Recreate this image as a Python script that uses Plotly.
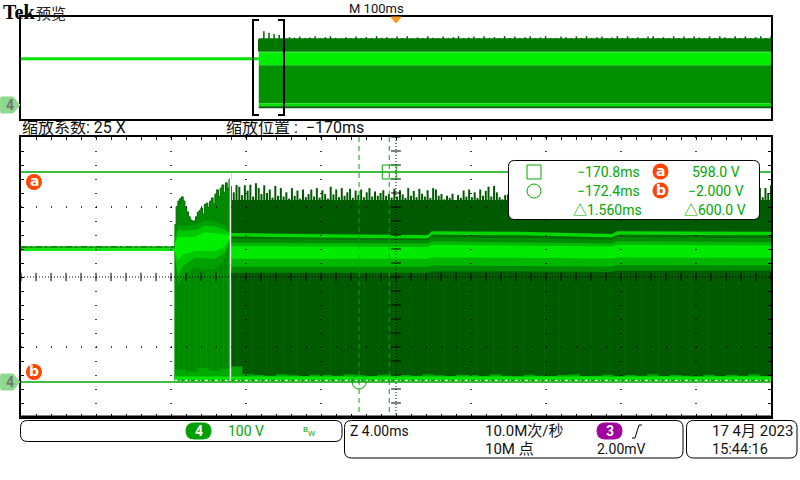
import numpy as np
import plotly.graph_objects as go

# ---------- values (ms, volts) ----------
CH_LABEL = "4"
SCALE_TEXT = "100 V"
ZOOM_FACTOR = "缩放系数: 25 X"
ZOOM_POS = "缩放位置 :  −170ms"
READOUT = [("−170.8ms", "598.0 V", 739), ("−172.4ms", "−2.000 V", 743), ("△1.560ms", "△600.0 V", 745)]

cursor_a_v = 598
cursor_b_v = -2
cursor_square_ms = -170.36
cursor_circle_ms = -171.97

idle_t = [-190, -181.8]
idle_top = [386, 386]
idle_bot = [372, 372]

# start-up burst, 0.094 ms per pulse
burst_start = -181.82
burst_peak = [447, 500, 515, 522, 527, 515, 498, 484, 470, 461, 458, 458, 470, 483, 488, 495, 478,
              505, 509, 497, 515, 524, 507, 535, 547, 528, 552, 561, 540, 567, 552, 578, 595]

# steady switching pulses, spread evenly over the rest of the sweep
steady_start = -178.8
steady_end = -150
steady_base = 518
steady_peak = [
 558, 540, 561, 556, 532, 560, 545, 562, 528, 566, 552, 535, 560, 538, 548, 525, 558, 530, 552, 528,
 540, 522, 552, 530, 545, 522, 548, 526, 535, 548, 528, 552, 525, 546, 535, 522, 556, 534, 548, 526,
 552, 530, 540, 550, 524, 545, 532, 548, 526, 540, 552, 528, 542, 530, 538, 546, 530, 535, 525, 550,
 528, 546, 534, 524, 552, 530, 544, 526, 550, 536, 528, 546, 524, 552, 548, 530, 535, 520, 530, 524,
 536, 518, 532, 524, 545, 528, 548, 526, 540, 524, 548, 530, 544, 556, 528, 558, 540, 526, 520, 532,
 534, 526, 530, 528, 545, 530, 548, 526, 540, 546, 524, 550, 530, 540, 526, 552, 534, 528, 556, 530,
 546, 552, 528, 558, 534, 544, 526, 552, 530, 548, 556, 528, 546, 532, 550, 526, 544, 552, 530, 540,
 548, 528, 552, 532, 540, 556, 526, 546, 534, 550, 528, 544, 552, 526, 548, 532, 540, 554, 528, 546,
 530, 552, 536, 526, 550, 540, 528, 556, 534, 546, 524, 552, 530, 544, 550, 526, 540, 556, 530, 548,
 526, 552, 534, 544, 528, 550, 538, 526, 558, 530, 546, 552, 526, 552, 538, 560,
]
streak_t = [-178.4, -177.7, -176.9, -176.0, -175.3, -174.6, -173.5, -172.7, -171.7, -170.9, -170.1, -169.2,
            -168.3, -167.4, -166.6, -165.7, -164.8, -163.9, -163.2, -162.1, -161.3, -160.4, -159.6, -158.6,
            -157.8, -156.9, -156.0, -155.2, -154.3, -153.4, -152.5, -151.7, -150.8]
streak_top = 300
streak_bot = 20
burst_streak_t = [-181.6, -181.3, -181.0, -180.7, -180.4, -180.1, -179.8, -179.5, -179.2, -178.95]
burst_streak_top = [200, 300, 320, 330, 330, 340, 340, 340, 360, 380]

# bright ridge and body of the steady part
band_t = [-178.8, -175.1, -168.3, -168.1, -163.4, -158.5, -158.2, -150]
ridge_top = [424, 421, 418, 429, 427, 421, 429, 427]
ridge_bot = [414, 411, 408, 419, 417, 411, 419, 417]
halo_top = [408, 406, 404, 412, 410, 405, 412, 410]
halo_bot = [310, 310, 310, 314, 314, 312, 316, 316]
mid_top = [396, 396, 394, 400, 398, 394, 400, 398]
mid_bot = [327, 327, 327, 331, 330, 328, 332, 331]
core_top = [386, 386, 384, 390, 388, 385, 390, 388]
core_bot = [350, 350, 350, 354, 352, 351, 354, 353]

# start-up glow
glow_t = [-181.8, -181.64, -181.36, -180.72, -180.19, -179.65, -179.12, -178.8]
glow_out_top = [404, 446, 444, 446, 460, 456, 446, 424]
glow_out_bot = [366, 270, 300, 326, 320, 320, 350, 410]
glow_mid_top = [396, 432, 430, 432, 445, 442, 432, 420]
glow_mid_bot = [368, 300, 330, 352, 350, 350, 368, 414]
glow_core_top = [390, 412, 412, 414, 426, 424, 420, 418]
glow_core_bot = [372, 345, 362, 372, 372, 372, 386, 416]

# glow along the low rail, spread evenly from the burst to the sweep end
rail_start = -181.8
rail_glow = [34, 28, 38, 30, 36, 42, 20, 18, 16, 20, 17, 15, 19, 18, 16, 20, 17, 15, 19, 20, 18, 16, 20, 17, 15, 19,
             18, 15, 20, 16, 14, 19, 16, 15, 18, 20, 15, 16, 19, 14, 18, 16, 20, 15, 18, 16, 14, 19, 15, 18, 16, 20,
             15, 17]

# overview trace
ov_idle_t = [-500, -183]
ov_idle_v = [370, 370]
ov_start = -183
ov_base = 531
ov_peak = [430, 586, 575, 564, 556, 548, 540, 535, 544, 533, 538, 547, 533, 540, 548, 535, 531, 540, 533, 546, 534,
           540, 533, 548, 535, 540, 533, 546, 534, 547, 532, 538, 533, 548, 536, 533, 546, 534, 540, 548, 533,
           538, 546, 533, 547, 534, 540, 533, 548, 534, 546, 533, 540, 547, 532, 538, 548, 534, 533, 546, 540,
           533, 547, 534, 548, 533, 540, 546, 533, 538, 548, 534, 547, 533, 540, 533, 546, 548, 534, 540, 533,
           547, 534, 546, 533, 548, 538, 533, 546, 534, 547, 540, 533, 548, 534, 546, 533, 540, 547, 533, 548]
ov_t = [-183, 500]
ov_mid_top = [429, 429]
ov_ridge_top = [421, 421]
ov_ridge_bot = [320, 320]
ov_low_bot = [22, 22]
ov_rail_bot = [-2, -2]
ov_floor = [-18, -18]

# ---------- colours ----------
DARK = "#005a00"
MED = "#008a00"
CURSOR = "#00a800"
ORANGE = "#ff4500"

W, H = 800, 480
fx = lambda x: x / W
fy = lambda y: 1 - y / H

fig = go.Figure()
MAIN = dict(xaxis="x", yaxis="y")
OV = dict(xaxis="x2", yaxis="y2")


def band(t, top, bot, color, ax):
    fig.add_trace(go.Scatter(x=list(t) + list(t)[::-1], y=list(top) + list(bot)[::-1], fill="toself",
                             fillcolor=color, mode="lines", line=dict(width=0, color=color),
                             hoverinfo="skip", showlegend=False, **ax))


def steps(t, v, fillc, linec, ax, w=1):
    fig.add_trace(go.Scatter(x=t, y=v, mode="lines", line=dict(shape="hv", width=w, color=linec),
                             fill="tozeroy", fillcolor=fillc, hoverinfo="skip", showlegend=False, **ax))


def sticks(ts, lows, highs, color, width, ax):
    sx, sy = [], []
    for t, lo, hi in zip(ts, lows, highs):
        sx += [t, t, None]
        sy += [lo, hi, None]
    fig.add_trace(go.Scatter(x=sx, y=sy, mode="lines", line=dict(color=color, width=width),
                             hoverinfo="skip", showlegend=False, **ax))


# ---- overview ----
ov_pt = ov_start + np.arange(len(ov_peak)) * (500 - ov_start) / (len(ov_peak) - 1)
band(ov_t, [ov_base, ov_base], ov_mid_top, "#007800", OV)
sticks(ov_pt, [ov_base - 8] * len(ov_peak), ov_peak, "#006800", 1.5, OV)
band(ov_t, ov_mid_top, ov_ridge_top, "#008800", OV)
band(ov_t, ov_ridge_top, ov_ridge_bot, "#00ee00", OV)
band(ov_t, ov_ridge_bot, ov_low_bot, "#009000", OV)
band(ov_t, ov_low_bot, ov_rail_bot, "#00e000", OV)
band(ov_t, ov_rail_bot, ov_floor, "#006000", OV)
fig.add_trace(go.Scatter(x=ov_idle_t, y=ov_idle_v, mode="lines", line=dict(color="#00e600", width=3),
                         hoverinfo="skip", showlegend=False, **OV))

# ---- main: envelope ----
st = np.linspace(steady_start, steady_end, len(steady_peak))
band([steady_start, steady_end], [steady_base, steady_base], [0, 0], DARK, MAIN)
sticks(st, [steady_base - 4] * len(st), steady_peak, DARK, 2, MAIN)
bt = burst_start + np.arange(len(burst_peak)) * 0.094
steps(bt, burst_peak, MED, "#006a00", MAIN)

sticks(streak_t, [streak_bot] * len(streak_t), [streak_top] * len(streak_t), "#006600", 1, MAIN)
sticks(burst_streak_t, [streak_bot] * len(burst_streak_t), burst_streak_top, "#009800", 1, MAIN)

# ---- main: bands ----
band(band_t, ridge_bot, halo_top, "#006e00", MAIN)
band(band_t, halo_top, halo_bot, "#008a00", MAIN)
band(band_t, mid_top, mid_bot, "#00b800", MAIN)
band(band_t, core_top, core_bot, "#00ea00", MAIN)
band(band_t, ridge_top, ridge_bot, "#00d800", MAIN)
band(glow_t, glow_out_top, glow_out_bot, "#00a000", MAIN)
band(glow_t, glow_mid_top, glow_mid_bot, "#00c800", MAIN)
band(glow_t, glow_core_top, glow_core_bot, "#00f000", MAIN)
band(idle_t, idle_top, [379, 379], "#00b000", MAIN)
band(idle_t, [379, 379], idle_bot, "#00ee00", MAIN)

# ---- main: low rail ----
rt = np.linspace(rail_start, steady_end, len(rail_glow))
fig.add_trace(go.Scatter(x=rt, y=rail_glow, mode="lines", line=dict(shape="hv", width=0, color="#00a800"),
                         fill="tozeroy", fillcolor="#00a800", hoverinfo="skip", showlegend=False, **MAIN))
band([-181.8, -150], [14, 14], [5, 5], "#00e800", MAIN)

# ---- crosshair ticks ----
xt = np.arange(-190, -149.9, 0.8)
yt = np.arange(-102, 698.1, 40)
fig.add_trace(go.Scatter(x=xt, y=[298] * len(xt), mode="markers",
                         marker=dict(symbol="line-ns", size=6, line=dict(width=1, color="black")),
                         hoverinfo="skip", showlegend=False, **MAIN))
fig.add_trace(go.Scatter(x=[-170] * len(yt), y=yt, mode="markers",
                         marker=dict(symbol="line-ew", size=7, line=dict(width=1, color="black")),
                         hoverinfo="skip", showlegend=False, **MAIN))

shapes = []


def line_shape(x0, y0, x1, y1, color="black", width=1, dash="solid", xref="x", yref="y"):
    shapes.append(dict(type="line", x0=x0, y0=y0, x1=x1, y1=y1, xref=xref, yref=yref, layer="above",
                       line=dict(color=color, width=width, dash=dash)))


def path_shape(d, fill=None, line="black", width=1):
    shapes.append(dict(type="path", path=d, xref="paper", yref="paper", layer="above",
                       fillcolor=fill if fill else "rgba(0,0,0,0)",
                       line=dict(color=line, width=width)))


def rr(x0, y0, x1, y1, r):
    P = lambda x, y: f"{fx(x):.5f},{fy(y):.5f}"
    return (f"M{P(x0 + r, y0)} L{P(x1 - r, y0)} Q{P(x1, y0)} {P(x1, y0 + r)} L{P(x1, y1 - r)} "
            f"Q{P(x1, y1)} {P(x1 - r, y1)} L{P(x0 + r, y1)} Q{P(x0, y1)} {P(x0, y1 - r)} "
            f"L{P(x0, y0 + r)} Q{P(x0, y0)} {P(x0 + r, y0)} Z")


def poly(pts):
    return "M" + " L".join(f"{fx(x):.5f},{fy(y):.5f}" for x, y in pts) + " Z"


# dotted graticule
for t in np.arange(-186, -150.5, 4):
    if abs(t + 170) > 0.1:
        line_shape(t, 698, t, -102, width=1.5, dash="1px,13px")
for v in [98, 498]:
    line_shape(-190, v, -150, v, width=1.5, dash="1px,14px")
line_shape(-190, 298, -150, 298, width=1, dash="1px,2px")
line_shape(-170, 698, -170, -102, width=1, dash="1px,2px")

# mottling on the idle trace
line_shape(-190, 384, -181.8, 384, color="#009000", width=2, dash="6px,3px,2px,4px")

# white seam and rail dots
line_shape(-178.83, 0, -178.83, 595, color="white", width=1.5)
line_shape(-181.8, 1.5, -150, 1.5, color="white", width=2, dash="3px,2px,1px,4px")

# cursors
line_shape(-190, cursor_a_v, -150, cursor_a_v, color=CURSOR, width=1.5)
line_shape(-190, cursor_b_v, -150, cursor_b_v, color=CURSOR, width=1.5)
for t in (cursor_square_ms, cursor_circle_ms):
    line_shape(t, 698, t, -102, color=CURSOR, width=1, dash="5px,4px")
shapes.append(dict(type="rect", xref="x", yref="y", xsizemode="pixel", ysizemode="pixel", layer="above",
                   xanchor=cursor_square_ms, yanchor=cursor_a_v, x0=-7, x1=7, y0=-7, y1=7,
                   line=dict(color=CURSOR, width=1)))
shapes.append(dict(type="circle", xref="x", yref="y", xsizemode="pixel", ysizemode="pixel", layer="above",
                   xanchor=cursor_circle_ms, yanchor=cursor_b_v, x0=-7, x1=7, y0=-7, y1=7,
                   line=dict(color=CURSOR, width=1)))

# heavy bottom edge of the main panel
line_shape(-190, -102, -150, -102, color="black", width=3)

# zoom bracket
for xs in ((259, 253, 253, 259), (278, 284, 284, 278)):
    pts = [(xs[0], 20), (xs[1], 20), (xs[2], 115), (xs[3], 115)]
    d = "M" + " L".join(f"{fx(x):.5f},{fy(y):.5f}" for x, y in pts)
    path_shape(d, None, "black", 2)

# trigger marker
path_shape(poly([(391, 17), (401, 17), (396, 23)]), "#ff9a1a", "#ff9a1a", 1)

# channel tags
for cy in (105, 382):
    path_shape(poly([(1, cy - 8), (13, cy - 8), (20, cy), (13, cy + 8), (1, cy + 8), (0, cy)]),
               "#8fd88f", "#8fd88f", 1)

# read-out panel and status boxes
path_shape(rr(508.5, 160.5, 759.5, 219.5, 6), "white", "black", 1)
path_shape(rr(20.5, 420.5, 342, 441.5, 7), "white", "black", 1)
path_shape(rr(344.5, 420.5, 683, 458, 7), "white", "black", 1)
path_shape(rr(686.5, 420.5, 797, 458, 7), "white", "black", 1)
path_shape(rr(186, 423, 211, 439, 8), "#00a000", "#00a000", 1)
path_shape(rr(597, 423, 622, 439, 8), "#a000a0", "#a000a0", 1)
path_shape("M" + " L".join(f"{fx(x):.5f},{fy(y):.5f}" for x, y in [(632, 438), (635, 438), (639, 425), (642, 425)]),
           None, "black", 1)

# readout symbols
shapes.append(dict(type="rect", xref="paper", yref="paper", x0=fx(527), x1=fx(541), y0=fy(165), y1=fy(179),
                   layer="above", line=dict(color=CURSOR, width=1)))
shapes.append(dict(type="circle", xref="paper", yref="paper", x0=fx(527), x1=fx(541), y0=fy(184), y1=fy(198),
                   layer="above", line=dict(color=CURSOR, width=1)))
for cx, cy in ((34, 182), (34, 372), (660.5, 171.5), (660.5, 190.5)):
    shapes.append(dict(type="circle", xref="paper", yref="paper", x0=fx(cx - 8), x1=fx(cx + 8), y0=fy(cy - 8),
                       y1=fy(cy + 8), layer="above", fillcolor=ORANGE, line=dict(color=ORANGE, width=0)))

ann = []
BASE = "Roboto, 'Noto Sans CJK SC', sans-serif"
CJK = "'Noto Sans CJK SC', sans-serif"


def text(x, y, s, size=13, color="#111111", anchor="left", family=BASE, bold=False):
    dx = -2.5 if anchor == "left" else (2.5 if anchor == "right" else 0)
    ann.append(dict(x=fx(x + dx), y=fy(y), xref="paper", yref="paper", text=f"<b>{s}</b>" if bold else s,
                    showarrow=False, xanchor=anchor, yanchor="middle", align=anchor,
                    font=dict(size=size, color=color, family=family)))


text(3, 12, "Tek", 20, "black", family="'Liberation Serif', serif", bold=True)
text(36, 12, "预览", 15, "#222222", family=CJK)
text(349, 8, "M 100ms", 13)
text(22, 128, ZOOM_FACTOR, 16, family=BASE)
text(226, 128, ZOOM_POS, 16, family=BASE)
for i, (a, b, right) in enumerate(READOUT):
    text(639 if i < 2 else 641, 171.5 + 19.5 * i, a, 14, CURSOR, "right")
    text(right, 171.5 + 19.5 * i, b, 14, CURSOR, "right")
for cx, cy, s in ((34, 181, "a"), (34, 371, "b"), (660.5, 170.5, "a"), (660.5, 189.5, "b")):
    text(cx, cy, s, 14, "white", "center", family="'DejaVu Sans', sans-serif", bold=True)
text(10, 105, CH_LABEL, 14, "#707870", "center", bold=True)
text(10, 382, CH_LABEL, 14, "#707870", "center", bold=True)
text(198.5, 431, CH_LABEL, 14, "white", "center", bold=True)
text(228, 431, SCALE_TEXT, 14, CURSOR)
text(303, 429, "B", 8, CURSOR)
text(308, 433, "W", 8, CURSOR)
text(350, 431, "Z 4.00ms", 14)
text(485, 431, "10.0M次/秒", 15)
text(485, 449, "10M 点", 15)
text(609.5, 431, "3", 14, "white", "center", bold=True)
text(597, 449, "2.00mV", 14)
text(712, 431, "17 4月 2023", 15)
text(712, 449, "15:44:16", 14.5)

fig.update_layout(
    width=W, height=H, margin=dict(l=0, r=0, t=0, b=0), paper_bgcolor="white", plot_bgcolor="white",
    showlegend=False, shapes=shapes, annotations=ann,
    xaxis=dict(domain=[fx(21), fx(771)], range=[-190, -150], anchor="y", showgrid=False, zeroline=False,
               showticklabels=False, ticks="inside", tick0=-190, dtick=0.8, ticklen=3, tickcolor="black",
               showline=True, linecolor="black", linewidth=2, mirror="ticks", layer="above traces"),
    yaxis=dict(domain=[fy(417), fy(137)], range=[-102, 698], anchor="x", showgrid=False, zeroline=False,
               showticklabels=False, ticks="inside", tick0=-102, dtick=40, ticklen=3, tickcolor="black",
               showline=True, linecolor="black", linewidth=2, mirror="ticks", layer="above traces"),
    xaxis2=dict(domain=[fx(21), fx(771)], range=[-500, 500], anchor="y2", showgrid=False, zeroline=False,
                showticklabels=False, showline=True, linecolor="black", linewidth=1.5, mirror=True),
    yaxis2=dict(domain=[fy(119), fy(17)], range=[-102, 698], anchor="x2", showgrid=False, zeroline=False,
                showticklabels=False, showline=True, linecolor="black", linewidth=1.5, mirror=True),
)
fig.write_html("out.html", config=dict(displayModeBar=False, responsive=False),
               post_script="document.body.style.margin='0';document.body.style.overflow='hidden';")
